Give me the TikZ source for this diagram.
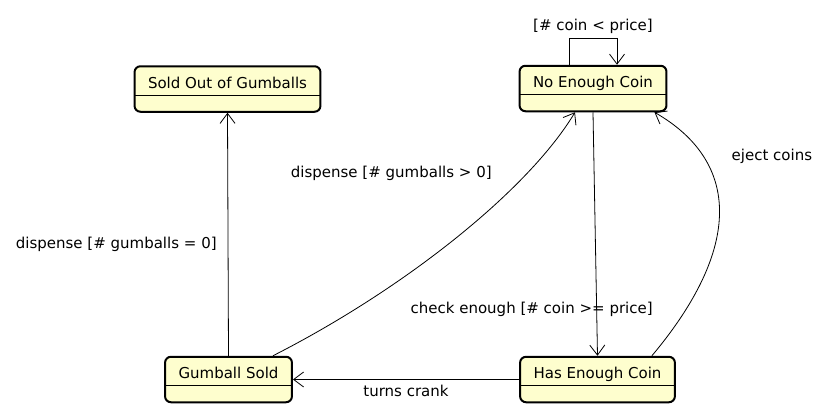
\documentclass[tikz,border=0pt]{standalone}
\usepackage{fontspec}
\setmainfont{DejaVu Sans}
\usetikzlibrary{arrows.meta}
\definecolor{stateyellow}{RGB}{254,254,206}

\begin{document}
\begin{tikzpicture}[x=1pt, y=-1pt,
  font=\fontsize{15pt}{18pt}\selectfont,
  statebox/.style={draw, line width=2pt, fill=stateyellow, rounded corners=6pt,
    inner xsep=13.5pt, inner ysep=0pt, text height=22pt, text depth=23.5pt,
    path picture={\draw[line width=0.8pt]
      ([yshift=-29pt]path picture bounding box.north west) --
      ([yshift=-29pt]path picture bounding box.north east);}},
  trans/.style={draw, line width=0.8pt, -{Straight Barb[length=10pt,width=15pt]}},
  lbl/.style={inner sep=0pt}]
\useasboundingbox (0,0) rectangle (825,416);
\foreach \name/\x/\y/\txt in {soldout/227.5/89/Sold Out of Gumballs,
    noenough/593/88.5/No Enough Coin, gumball/228.5/379.5/Gumball Sold,
    hasenough/597.5/379.5/Has Enough Coin} {
  \node[statebox] (\name) at (\x,\y) {\txt};
}
\draw[trans] (gumball.north) -- (soldout.south)
  node[lbl, pos=0.457, left=11pt] {dispense [\# gumballs = 0]};
\draw[trans] ([xshift=-20pt]gumball.north east) .. controls +(27:150pt) and +(239:90pt) .. ([xshift=-18pt]noenough.south)
  node[lbl, pos=0.75, left=35pt] {dispense [\# gumballs > 0]};
\draw[trans] (noenough.south) -- (hasenough.north)
  node[lbl, pos=0.81, xshift=-65pt] {check enough [\# coin >= price]};
\draw[trans] ([xshift=-24pt]hasenough.north east) .. controls +(50:140pt) and +(-30:100pt) .. ([xshift=-13pt]noenough.south east)
  node[lbl, pos=0.75, right=28pt] {eject coins};
\draw[trans] (hasenough.west) -- (gumball.east)
  node[lbl, pos=0.5, below=5pt] {turns crank};
\draw[trans] ([xshift=-24pt]noenough.north) -- ++(0,-26) -| ([xshift=24pt]noenough.north)
  node[lbl, pos=0.25, above=5pt] {[\# coin < price]};
\end{tikzpicture}
\end{document}
